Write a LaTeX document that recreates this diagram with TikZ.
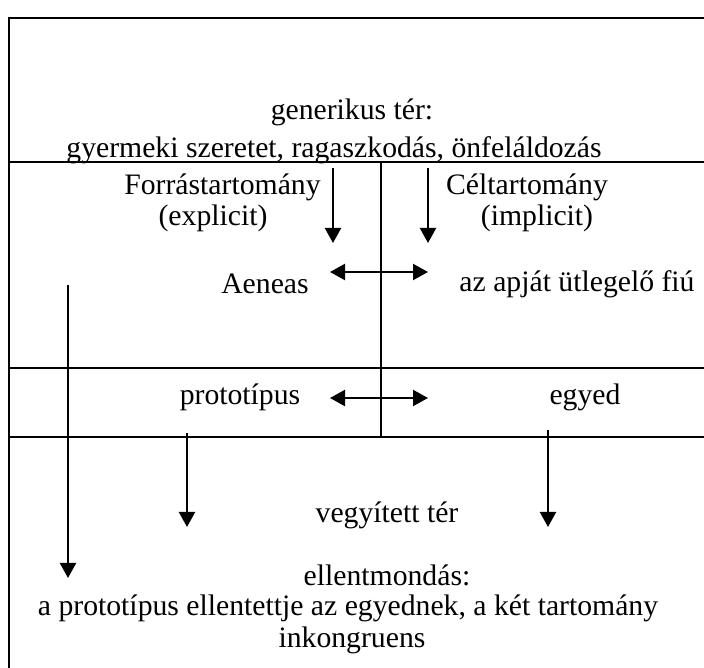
\documentclass[tikz,border=0pt]{standalone}
\usepackage{fontspec}
\setmainfont{Liberation Serif}
\usepackage{tikz}
\usetikzlibrary{positioning,calc,arrows.meta}

\tikzset{
    frame/.style={line width=1.7pt},
    flow/.style={line width=1.2pt, -{Triangle[length=0.3cm,width=0.32cm]}},
    swap/.style={line width=1.2pt, {Triangle[length=0.3cm,width=0.32cm]}-{Triangle[length=0.3cm,width=0.32cm]}},
    label/.style={inner sep=0pt, font=\fontsize{16.9}{20}\selectfont}
}

\begin{document}
\begin{tikzpicture}
    \useasboundingbox (0,0) rectangle (14.08,13.36);

    % Frame
    \draw[frame] (14.3,13.0) -- (0.18,13.0) -- (0.18,-0.3);
    \draw[frame] (0.18,10.12) -- (14.3,10.12);
    \draw[frame] (0.18,6.0) -- (14.3,6.0);
    \draw[frame] (0.18,4.62) -- (14.3,4.62);
    \draw[frame] (7.62,10.12) -- (7.62,4.62);

    % Generic space
    \node[label] (gen) at (7.04,11.12) {generikus tér:};
    \node[label] (genlist) at (6.68,10.36) {gyermeki szeretet, ragaszkodás, önfeláldozás};

    % Domains
    \node[label] (src) at (4.45,9.62) {Forrástartomány};
    \node[label] (srcx) at (4.26,9.0) {(explicit)};
    \node[label] (tgt) at (10.54,9.62) {Céltartomány};
    \node[label] (tgti) at (10.74,9.0) {(implicit)};
    \node[label] (aeneas) at (5.3,7.68) {Aeneas};
    \node[label] (boy) at (11.54,7.68) {az apját ütlegelő fiú};
    \node[label] (proto) at (4.8,5.42) {prototípus};
    \node[label] (indiv) at (11.7,5.42) {egyed};

    % Blended space
    \node[label] (blend) at (7.74,3.06) {vegyített tér};
    \node[label] (contra) at (7.74,1.86) {ellentmondás:};
    \node[label] (contra2) at (6.96,1.2) {a prototípus ellentettje az egyednek, a két tartomány};
    \node[label] (contra3) at (7.04,0.56) {inkongruens};

    % Arrow ends
    \coordinate (a1s) at (6.66,10.0);  \coordinate (a1e) at (6.66,8.5);
    \coordinate (a2s) at (8.56,10.0);  \coordinate (a2e) at (8.56,8.5);
    \coordinate (m1l) at (6.6,7.92);   \coordinate (m1r) at (8.56,7.92);
    \coordinate (m2l) at (6.6,5.4);    \coordinate (m2r) at (8.56,5.4);
    \coordinate (ls) at (1.36,7.66);   \coordinate (le) at (1.36,1.8);
    \coordinate (b1s) at (3.74,4.7);   \coordinate (b1e) at (3.74,2.82);
    \coordinate (b2s) at (10.96,4.76); \coordinate (b2e) at (10.96,2.82);

    \draw[flow] (a1s) -- (a1e);
    \draw[flow] (a2s) -- (a2e);
    \draw[swap] (m1l) -- (m1r);
    \draw[swap] (m2l) -- (m2r);
    \draw[flow] (ls) -- (le);
    \draw[flow] (b1s) -- (b1e);
    \draw[flow] (b2s) -- (b2e);
\end{tikzpicture}
\end{document}
